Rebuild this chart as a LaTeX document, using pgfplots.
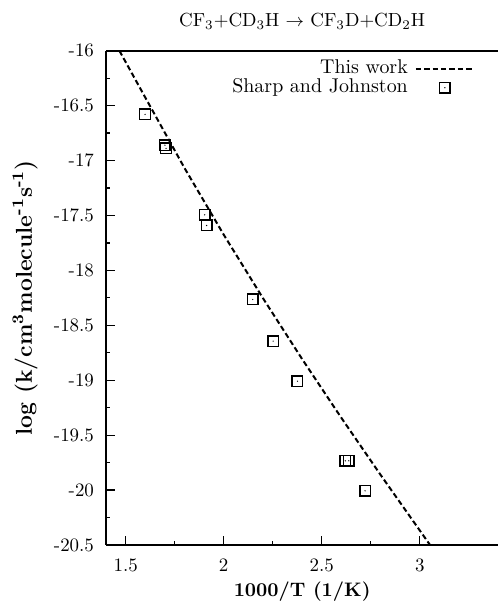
\documentclass[border=0pt]{standalone}
\usepackage{pgfplots}
\pgfplotsset{compat=1.18}
\pgfdeclareplotmark{sqdot}{%
  \pgfpathrectangle{\pgfpoint{-\pgfplotmarksize}{-\pgfplotmarksize}}{\pgfpoint{2\pgfplotmarksize}{2\pgfplotmarksize}}%
  \pgfusepathqstroke
  \pgfpathcircle{\pgfpointorigin}{0.35bp}%
  \pgfusepathqfill}
\pgfplotsset{
  legline/.style={legend image code/.code={\draw[##1] (0bp,0bp) -- (29bp,0bp);}},
  legmark/.style={legend image code/.code={\path (0bp,0bp) (29bp,0bp); \draw[##1] plot coordinates {(14.5bp,0bp)};}},
}
\begin{document}
\begin{tikzpicture}
\begin{axis}[
  scale only axis, width=196bp, height=247bp,
  xmin=1.4, xmax=3.4, ymin=-20.5, ymax=-16,
  axis x line=box, axis y line*=left,
  axis line style={line width=0.9bp},
  xtick={1.5,2,2.5,3}, minor x tick num=1,
  ytick={-20.5,-20,-19.5,-19,-18.5,-18,-17.5,-17,-16.5,-16}, minor y tick num=1,
  xtick pos=bottom, ytick pos=left,
  tick align=inside,
  major tick length=4.3bp, minor tick length=2.1bp,
  every tick/.style={black, line width=0.6bp},
  /pgf/number format/assume math mode=true,
  /pgf/number format/fixed,
  ticklabel style={font=\fontsize{9.5}{10}\selectfont},
  xticklabel style={anchor=center, yshift=-10bp},
  yticklabel style={anchor=east, inner sep=0pt, xshift=-5.85bp},
  xlabel={\bfseries 1000/T (1/K)},
  ylabel={\bfseries log (k/cm\textsuperscript{3}molecule\textsuperscript{-1}s\textsuperscript{-1})},
  xlabel style={font=\fontsize{9.8}{11}\selectfont, at={(axis description cs:0.5,0)}, anchor=center, inner sep=0pt, yshift=-23.35bp},
  ylabel style={font=\fontsize{11.5}{12}\selectfont, at={(axis description cs:-0.2066,0.5)}, anchor=center, inner sep=0pt},
  every axis title/.style={at={(axis description cs:0.5,1)}, anchor=center, inner sep=0pt, yshift=14.5bp, font=\fontsize{9.5}{11}\selectfont},
  title={CF\textsubscript{3}+CD\textsubscript{3}H $\rightarrow$ CF\textsubscript{3}D+CD\textsubscript{2}H},
  legend plot pos=right,
  legend cell align=right,
  legend style={draw=none, fill=none, at={(0.9413,0.9826)}, anchor=north east,
    inner sep=0pt, row sep=0.5bp,
    nodes={inner sep=0pt, text height=7bp, text depth=2bp, font=\fontsize{10}{10}\selectfont},
    /tikz/every odd column/.style={column sep=3.5bp}},
]
\addplot[black, line width=1bp, dash pattern=on 2.7bp off 1.5bp, legline]
  coordinates {(1.468,-16.0) (1.6,-16.426) (1.8,-17.068) (2.0,-17.675) (2.2,-18.253)
  (2.4,-18.808) (2.6,-19.343) (2.8,-19.862) (3.052,-20.5)};
\addlegendentry{This work}
\addplot[black, only marks, mark=sqdot, mark size=2.65bp, mark options={line width=0.7bp, solid}, legmark]
  coordinates {(1.599,-16.58) (1.700,-16.86) (1.706,-16.89) (1.903,-17.494) (1.913,-17.591)
  (2.148,-18.265) (2.252,-18.644) (2.376,-19.009) (2.620,-19.734) (2.638,-19.734) (2.721,-20.007)};
\addlegendentry{Sharp and Johnston}
\coordinate (bl) at (rel axis cs:0,0);
\coordinate (tr) at (rel axis cs:1,1);
\end{axis}
\pgfresetboundingbox
\useasboundingbox ([shift={(-53bp,-28bp)}]bl) rectangle ([shift={(0.3bp,25.35bp)}]tr);
\end{tikzpicture}
\end{document}
